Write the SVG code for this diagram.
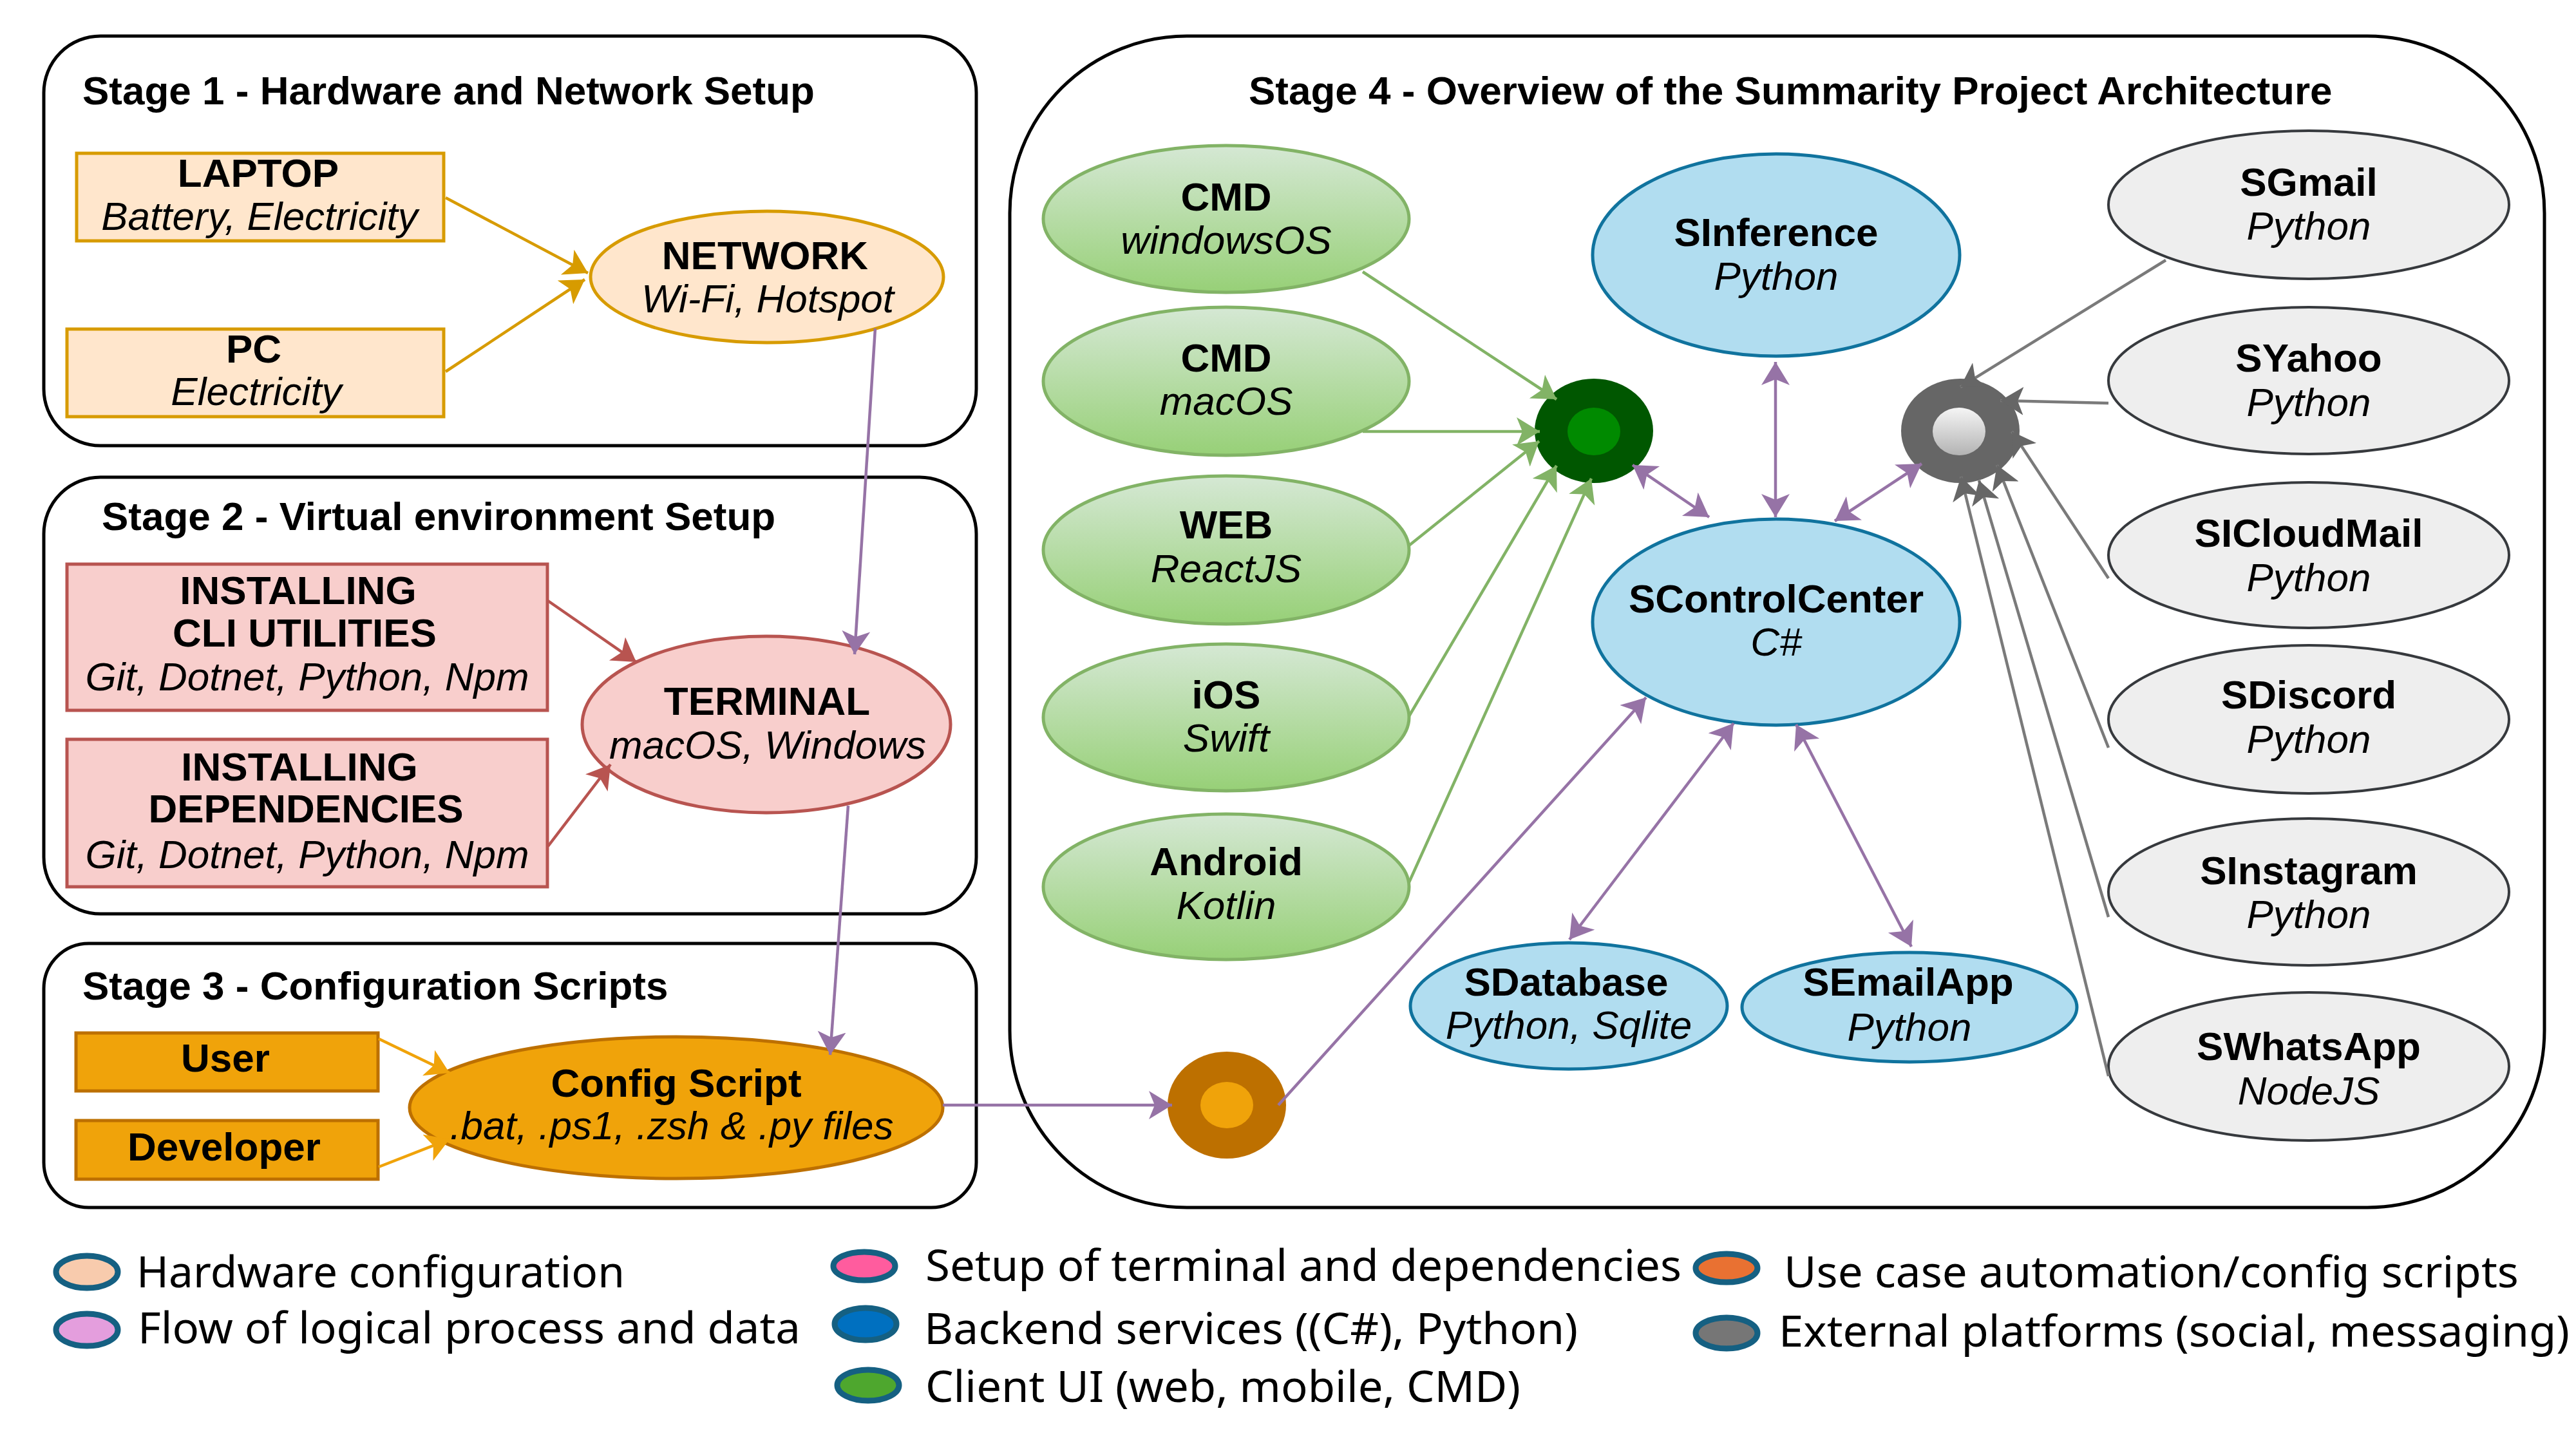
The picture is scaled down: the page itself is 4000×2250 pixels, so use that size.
<svg xmlns="http://www.w3.org/2000/svg" width="4000" height="2250" viewBox="0 0 4000 2250">
<style>
text{font-family:"Liberation Sans",Arial,sans-serif;fill:#000}
.t{font-size:62px;font-weight:700}
.b{font-size:62px;font-weight:700;text-anchor:middle}
.i{font-size:62px;font-style:italic;text-anchor:middle}
.l{font-family:"Noto Sans",sans-serif;font-size:68px}
.stage{fill:#fff;stroke:#000;stroke-width:5}
.hw{fill:#ffe6cc;stroke:#d79b00;stroke-width:5}
.rd{fill:#f8cecc;stroke:#b85450;stroke-width:5}
.or{fill:#f0a30a;stroke:#bd7000;stroke-width:5}
.gr{fill:url(#gg);stroke:#82b366;stroke-width:5}
.bl{fill:#b1ddf0;stroke:#10739e;stroke-width:5}
.gy{fill:#eeeeee;stroke:#36393d;stroke-width:4}
.leg{stroke:#156082;stroke-width:9}
#connectors line{fill:none;stroke-width:4.5}
.co{stroke:#d79b00;marker-end:url(#mo)}
.cr{stroke:#b85450;marker-end:url(#mr)}
.cp{stroke:#9673a6;marker-end:url(#mp)}
.cb{stroke:#9673a6;marker-start:url(#mp);marker-end:url(#mp)}
.cg{stroke:#82b366;marker-end:url(#mg)}
.cy{stroke:#7a7a7a;marker-end:url(#my)}
.cf{stroke:#f0a30a;marker-end:url(#mf)}
</style>
<defs>
<linearGradient id="gg" x1="0" y1="0" x2="0" y2="1"><stop offset="0" stop-color="#d5e8d4"/><stop offset="1" stop-color="#97d077"/></linearGradient>
<linearGradient id="gw" x1="0" y1="0" x2="0" y2="1"><stop offset="0" stop-color="#f5f5f5"/><stop offset="1" stop-color="#b3b3b3"/></linearGradient>
<marker id="mo" markerUnits="userSpaceOnUse" markerWidth="38" markerHeight="46" refX="36" refY="22" orient="auto-start-reverse"><path d="M0 0L36 22L0 44L9 22Z" fill="#d79b00"/></marker>
<marker id="mf" markerUnits="userSpaceOnUse" markerWidth="38" markerHeight="46" refX="36" refY="22" orient="auto-start-reverse"><path d="M0 0L36 22L0 44L9 22Z" fill="#f0a30a"/></marker>
<marker id="mr" markerUnits="userSpaceOnUse" markerWidth="38" markerHeight="46" refX="36" refY="22" orient="auto-start-reverse"><path d="M0 0L36 22L0 44L9 22Z" fill="#b85450"/></marker>
<marker id="mp" markerUnits="userSpaceOnUse" markerWidth="38" markerHeight="46" refX="36" refY="22" orient="auto-start-reverse"><path d="M0 0L36 22L0 44L9 22Z" fill="#9673a6"/></marker>
<marker id="mg" markerUnits="userSpaceOnUse" markerWidth="38" markerHeight="46" refX="36" refY="22" orient="auto-start-reverse"><path d="M0 0L36 22L0 44L9 22Z" fill="#82b366"/></marker>
<marker id="my" markerUnits="userSpaceOnUse" markerWidth="38" markerHeight="46" refX="36" refY="22" orient="auto-start-reverse"><path d="M0 0L36 22L0 44L9 22Z" fill="#666666"/></marker>
</defs>
<rect width="4000" height="2250" fill="#fff"/>

<g id="stage1"><rect class="stage" x="68" y="56" width="1448" height="636" rx="88"/><text class="t" x="128" y="162">Stage 1 - Hardware and Network Setup</text></g>
<g id="stage2"><rect class="stage" x="68" y="741" width="1448" height="678" rx="88"/><text class="t" x="158" y="823">Stage 2 - Virtual environment Setup</text></g>
<g id="stage3"><rect class="stage" x="68" y="1465" width="1448" height="410" rx="70"/><text class="t" x="128" y="1552">Stage 3 - Configuration Scripts</text></g>
<g id="stage4"><rect class="stage" x="1568" y="56" width="2383" height="1819" rx="275"/><text class="t" x="1939" y="162">Stage 4 - Overview of the Summarity Project Architecture</text></g>

<g id="laptop"><rect class="hw" x="119" y="238" width="570" height="136"/><text class="b" x="401" y="290">LAPTOP</text><text class="i" x="403" y="357">Battery, Electricity</text></g>
<g id="pc"><rect class="hw" x="104" y="511" width="585" height="136"/><text class="b" x="394" y="563">PC</text><text class="i" x="398" y="629">Electricity</text></g>
<g id="network"><ellipse class="hw" cx="1191" cy="430" rx="274" ry="102"/><text class="b" x="1188" y="418">NETWORK</text><text class="i" x="1192" y="485">Wi-Fi, Hotspot</text></g>

<g id="install-cli"><rect class="rd" x="104" y="876" width="746" height="227"/><text class="b" x="463" y="938">INSTALLING</text><text class="b" x="473" y="1004">CLI UTILITIES</text><text class="i" x="477" y="1072">Git, Dotnet, Python, Npm</text></g>
<g id="install-deps"><rect class="rd" x="104" y="1148" width="746" height="229"/><text class="b" x="465" y="1212">INSTALLING</text><text class="b" x="475" y="1277">DEPENDENCIES</text><text class="i" x="477" y="1348">Git, Dotnet, Python, Npm</text></g>
<g id="terminal"><ellipse class="rd" cx="1190" cy="1125" rx="286" ry="137"/><text class="b" x="1191" y="1110">TERMINAL</text><text class="i" x="1192" y="1178">macOS, Windows</text></g>

<g id="user"><rect class="or" x="118" y="1604" width="469" height="90"/><text class="b" x="350" y="1664">User</text></g>
<g id="developer"><rect class="or" x="118" y="1740" width="469" height="91"/><text class="b" x="348" y="1802">Developer</text></g>
<g id="config"><ellipse class="or" cx="1050" cy="1720" rx="414" ry="110"/><text class="b" x="1050" y="1703">Config Script</text><text class="i" x="1043" y="1769">.bat, .ps1, .zsh &amp; .py files</text></g>

<g id="cmd-win"><ellipse class="gr" cx="1904" cy="340" rx="284" ry="114"/><text class="b" x="1904" y="327">CMD</text><text class="i" x="1904" y="394">windowsOS</text></g>
<g id="cmd-mac"><ellipse class="gr" cx="1904" cy="592" rx="284" ry="115"/><text class="b" x="1904" y="577">CMD</text><text class="i" x="1904" y="644">macOS</text></g>
<g id="web"><ellipse class="gr" cx="1904" cy="854" rx="284" ry="115"/><text class="b" x="1904" y="836">WEB</text><text class="i" x="1904" y="904">ReactJS</text></g>
<g id="ios"><ellipse class="gr" cx="1904" cy="1114" rx="284" ry="114"/><text class="b" x="1904" y="1100">iOS</text><text class="i" x="1904" y="1167">Swift</text></g>
<g id="android"><ellipse class="gr" cx="1904" cy="1377" rx="284" ry="113"/><text class="b" x="1904" y="1359">Android</text><text class="i" x="1904" y="1427">Kotlin</text></g>

<g id="sinference"><ellipse class="bl" cx="2758" cy="396" rx="285" ry="157"/><text class="b" x="2758" y="382">SInference</text><text class="i" x="2758" y="450">Python</text></g>
<g id="scontrolcenter"><ellipse class="bl" cx="2758" cy="966" rx="285" ry="160"/><text class="b" x="2758" y="951">SControlCenter</text><text class="i" x="2758" y="1018">C#</text></g>
<g id="sdatabase"><ellipse class="bl" cx="2436" cy="1562" rx="246" ry="98"/><text class="b" x="2432" y="1546">SDatabase</text><text class="i" x="2436" y="1613">Python, Sqlite</text></g>
<g id="semailapp"><ellipse class="bl" cx="2965" cy="1564" rx="260" ry="85"/><text class="b" x="2963" y="1546">SEmailApp</text><text class="i" x="2965" y="1616">Python</text></g>

<g id="sgmail"><ellipse class="gy" cx="3585" cy="318" rx="311" ry="115"/><text class="b" x="3585" y="304">SGmail</text><text class="i" x="3585" y="372">Python</text></g>
<g id="syahoo"><ellipse class="gy" cx="3585" cy="591" rx="311" ry="114"/><text class="b" x="3585" y="577">SYahoo</text><text class="i" x="3585" y="646">Python</text></g>
<g id="sicloudmail"><ellipse class="gy" cx="3585" cy="862" rx="311" ry="113"/><text class="b" x="3585" y="849">SICloudMail</text><text class="i" x="3585" y="918">Python</text></g>
<g id="sdiscord"><ellipse class="gy" cx="3585" cy="1117" rx="311" ry="115"/><text class="b" x="3585" y="1100">SDiscord</text><text class="i" x="3585" y="1169">Python</text></g>
<g id="sinstagram"><ellipse class="gy" cx="3585" cy="1385" rx="311" ry="114"/><text class="b" x="3585" y="1373">SInstagram</text><text class="i" x="3585" y="1441">Python</text></g>
<g id="swhatsapp"><ellipse class="gy" cx="3585" cy="1656" rx="311" ry="115"/><text class="b" x="3585" y="1646">SWhatsApp</text><text class="i" x="3585" y="1715">NodeJS</text></g>

<g id="hub-client"><ellipse cx="2475" cy="669" rx="92" ry="81" fill="#005700"/><ellipse cx="2475" cy="670" rx="41" ry="37" fill="#008a00"/></g>
<g id="hub-external"><ellipse cx="3044" cy="669" rx="92" ry="81" fill="#666666"/><ellipse cx="3042" cy="670" rx="41" ry="37" fill="url(#gw)"/></g>
<g id="hub-config"><ellipse cx="1905" cy="1716" rx="92" ry="83" fill="#bd7000"/><ellipse cx="1905" cy="1716" rx="41" ry="36" fill="#f0a30a"/></g>

<g id="connectors">
<line class="co" x1="692" y1="307" x2="913" y2="424"/>
<line class="co" x1="692" y1="577" x2="908" y2="434"/>
<line class="cp" x1="1359" y1="510" x2="1327" y2="1016"/>
<line class="cr" x1="851" y1="933" x2="988" y2="1028"/>
<line class="cr" x1="851" y1="1314" x2="948" y2="1187"/>
<line class="cp" x1="1317" y1="1251" x2="1289" y2="1638"/>
<line class="cf" x1="588" y1="1613" x2="698" y2="1666"/>
<line class="cf" x1="588" y1="1812" x2="698" y2="1769"/>
<line class="cp" x1="1464" y1="1716" x2="1820" y2="1716"/>
<line class="cp" x1="1985" y1="1716" x2="2556" y2="1083"/>
<line class="cg" x1="2116" y1="422" x2="2417" y2="620"/>
<line class="cg" x1="2116" y1="670" x2="2391" y2="670"/>
<line class="cg" x1="2188" y1="847" x2="2390" y2="685"/>
<line class="cg" x1="2188" y1="1112" x2="2417" y2="723"/>
<line class="cg" x1="2188" y1="1370" x2="2471" y2="743"/>
<line class="cb" x1="2535" y1="722" x2="2654" y2="803"/>
<line class="cb" x1="2757" y1="562" x2="2757" y2="803"/>
<line class="cb" x1="2849" y1="809" x2="2984" y2="720"/>
<line class="cb" x1="2692" y1="1123" x2="2437" y2="1459"/>
<line class="cb" x1="2789" y1="1125" x2="2968" y2="1470"/>
<line class="cy" x1="3363" y1="404" x2="3044" y2="601"/>
<line class="cy" x1="3274" y1="626" x2="3106" y2="622"/>
<line class="cy" x1="3274" y1="898" x2="3124" y2="670"/>
<line class="cy" x1="3274" y1="1161" x2="3101" y2="722"/>
<line class="cy" x1="3274" y1="1424" x2="3073" y2="746"/>
<line class="cy" x1="3274" y1="1671" x2="3045" y2="740"/>
</g>

<g id="legend">
<ellipse class="leg" cx="135" cy="1975" rx="48" ry="25" fill="#f8cbad"/><text class="l" x="212" y="1999" textLength="758" lengthAdjust="spacingAndGlyphs">Hardware configuration</text>
<ellipse class="leg" cx="135" cy="2065" rx="48" ry="25" fill="#e49edd"/><text class="l" x="214" y="2086" textLength="1029" lengthAdjust="spacingAndGlyphs">Flow of logical process and data</text>
<ellipse class="leg" cx="1342" cy="1966" rx="48" ry="22" fill="#ff5c9e"/><text class="l" x="1437" y="1989" textLength="1174" lengthAdjust="spacingAndGlyphs">Setup of terminal and dependencies</text>
<ellipse class="leg" cx="1344" cy="2056" rx="48" ry="25" fill="#0070c0"/><text class="l" x="1435" y="2087" textLength="1015" lengthAdjust="spacingAndGlyphs">Backend services ((C#), Python)</text>
<ellipse class="leg" cx="1348" cy="2151" rx="48" ry="24" fill="#4ea72e"/><text class="l" x="1437" y="2177" textLength="924" lengthAdjust="spacingAndGlyphs">Client UI (web, mobile, CMD)</text>
<ellipse class="leg" cx="2681" cy="1969" rx="48" ry="22" fill="#e97132"/><text class="l" x="2770" y="1999" textLength="1141" lengthAdjust="spacingAndGlyphs">Use case automation/config scripts</text>
<ellipse class="leg" cx="2681" cy="2070" rx="48" ry="24" fill="#767676"/><text class="l" x="2762" y="2091" textLength="1228" lengthAdjust="spacingAndGlyphs">External platforms (social, messaging)</text>
</g>
</svg>
